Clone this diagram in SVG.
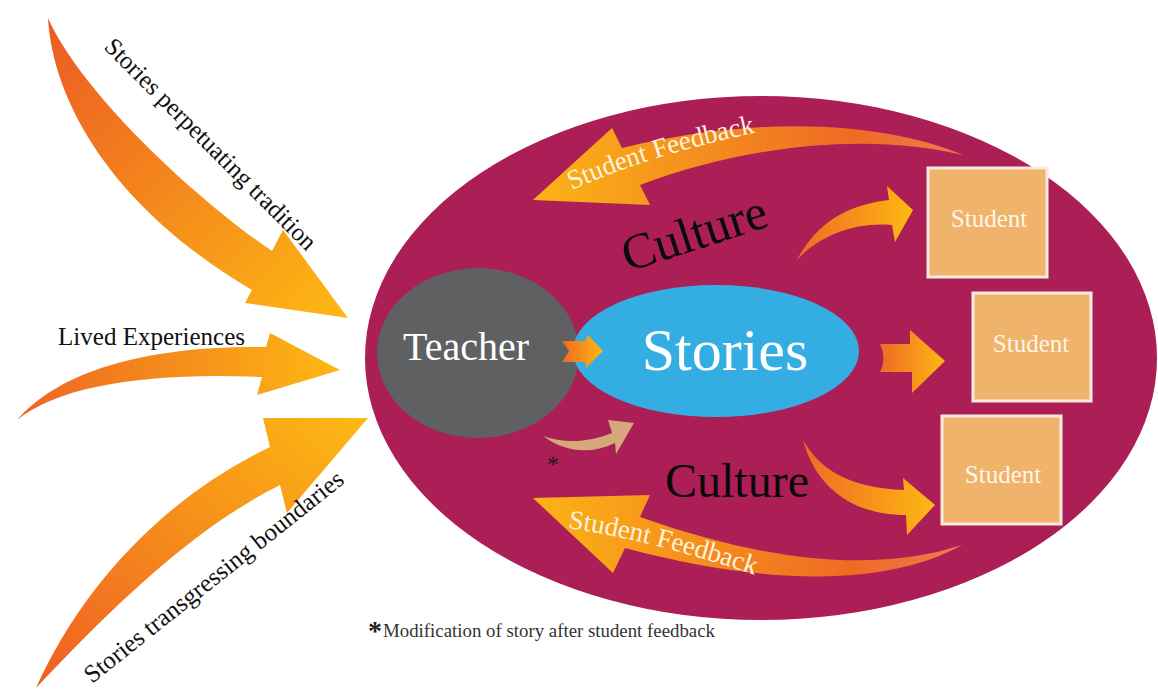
<svg xmlns="http://www.w3.org/2000/svg" width="1158" height="691" viewBox="0 0 1158 691">
<defs>
<style>
.serif{font-family:"Liberation Serif","Times New Roman",serif}
.lbl{font-size:25px;fill:#111}
.stu rect{fill:#EFB36B;stroke:#FBEBDC;stroke-width:3}
.stu text{font-size:25px;fill:#FFF6E8;text-anchor:middle}
.fb{font-size:27px;fill:#FFF3DF}
.cult{font-size:50px;fill:#0a0a0a}
</style>
<linearGradient id="gDiag" x1="0" y1="0" x2="1" y2="1"><stop offset="0" stop-color="#EC5A24"/><stop offset="1" stop-color="#FDB913"/></linearGradient>
<linearGradient id="gLR" x1="0" y1="0" x2="1" y2="0"><stop offset="0" stop-color="#EE6424"/><stop offset="1" stop-color="#FDB813"/></linearGradient>
<linearGradient id="gUp" x1="0" y1="1" x2="1" y2="0"><stop offset="0" stop-color="#EE5E24"/><stop offset="1" stop-color="#FDB913"/></linearGradient>
<linearGradient id="gRL" x1="0" y1="0" x2="1" y2="0"><stop offset="0" stop-color="#FBB316"/><stop offset="0.75" stop-color="#EF6A24"/><stop offset="1" stop-color="#F07A50"/></linearGradient>
<linearGradient id="gHead" x1="0" y1="0" x2="1" y2="0"><stop offset="0" stop-color="#EF6A24"/><stop offset="1" stop-color="#FDB813"/></linearGradient>
</defs>
<rect width="1158" height="691" fill="#FFFFFF"/>
<g id="culture-ellipse"><ellipse cx="761" cy="358" rx="396" ry="262" fill="#AB1F56"/></g>

<g id="teacher"><ellipse cx="478" cy="353" rx="101" ry="85" fill="#5F6062"/><text class="serif" x="466" y="360" font-size="40" fill="#FFFFFF" text-anchor="middle">Teacher</text></g>
<g id="stories"><ellipse cx="716" cy="351" rx="143" ry="66" fill="#34AEE2"/><text class="serif" x="725" y="370" font-size="60" fill="#FFFFFF" text-anchor="middle">Stories</text></g>

<g id="student1" class="stu"><rect x="928" y="168" width="119" height="109"/><text class="serif" x="989" y="227">Student</text></g>
<g id="student2" class="stu"><rect x="973" y="293" width="118" height="108"/><text class="serif" x="1031" y="352">Student</text></g>
<g id="student3" class="stu"><rect x="942" y="416" width="119" height="108"/><text class="serif" x="1003" y="483">Student</text></g>

<g id="culture-labels">
<text class="serif cult" transform="translate(628,272) rotate(-18)">Culture</text>
<text class="serif cult" x="665" y="497" style="font-size:48px">Culture</text>
</g>

<g id="connectors">
<path d="M48,18 C52,90 100,200 252,290 L245,303 L348,318 L283,230 L272,251 C190,195 80,90 48,18 Z" fill="url(#gDiag)"/>
<path d="M17,420 C60,385 150,372 262,377 L257,395 L340,370 L270,333 L266,347 C150,345 60,370 17,420 Z" fill="url(#gLR)"/>
<path d="M36,688 C80,590 160,500 270,447 L263,418 L368,418 L287,513 L280,485 C190,530 110,610 36,688 Z" fill="url(#gUp)"/>
<path d="M963,155 C900,128 780,110 622,148 L612,128 L533,200 L650,205 L640,185 C760,140 880,135 963,155 Z" fill="url(#gRL)"/>
<path d="M962,545 C900,580 790,592 625,548 L613,573 L533,498 L650,495 L640,517 C790,570 890,568 962,545 Z" fill="url(#gRL)"/>
<path d="M797,260 C815,225 845,205 889,200 L887,186 L913,210 L895,242 L892,225 C855,222 820,235 797,260 Z" fill="url(#gHead)"/>
<path d="M880,344 L910,344 L910,330 L945,361 L912,393 L912,372 L880,372 Q887,358 880,344 Z" fill="url(#gHead)"/>
<path d="M803,440 C820,470 850,488 904,490 L903,478 L935,505 L907,535 L906,515 C850,515 815,485 803,440 Z" fill="url(#gHead)"/>
<path d="M562,341 L585,341 L588,335 L603,351 L586,368 L585,362 L562,362 L569,351 Z" fill="url(#gHead)"/>
<path d="M543,436 C565,444 590,442 612,433 L608,420 L634,423 L616,454 L615,443 C590,455 565,452 543,436 Z" fill="#D5A77A"/>
<path id="fbTop" d="M572,190 Q650,155 758,132" fill="none"/>
<path id="fbBot" d="M568,528 Q650,540 752,574" fill="none"/>
<text class="serif fb"><textPath href="#fbTop">Student Feedback</textPath></text>
<text class="serif fb"><textPath href="#fbBot">Student Feedback</textPath></text>
<text class="serif lbl" transform="translate(103,48) rotate(45)" textLength="288" lengthAdjust="spacingAndGlyphs">Stories perpetuating tradition</text>
<text class="serif lbl" x="58" y="345" textLength="187" lengthAdjust="spacingAndGlyphs">Lived Experiences</text>
<text class="serif lbl" transform="translate(92,684) rotate(-38.5)" textLength="324" lengthAdjust="spacingAndGlyphs">Stories transgressing boundaries</text>
<text class="serif" x="547" y="472" font-size="24" fill="#1a1a1a">*</text>
</g>

<g id="footnote">
<text class="serif" x="368" y="640" font-size="28" font-weight="bold" fill="#222">*</text>
<text class="serif" x="383" y="637" font-size="18" fill="#333" textLength="332" lengthAdjust="spacingAndGlyphs">Modification of story after student feedback</text>
</g>
</svg>
